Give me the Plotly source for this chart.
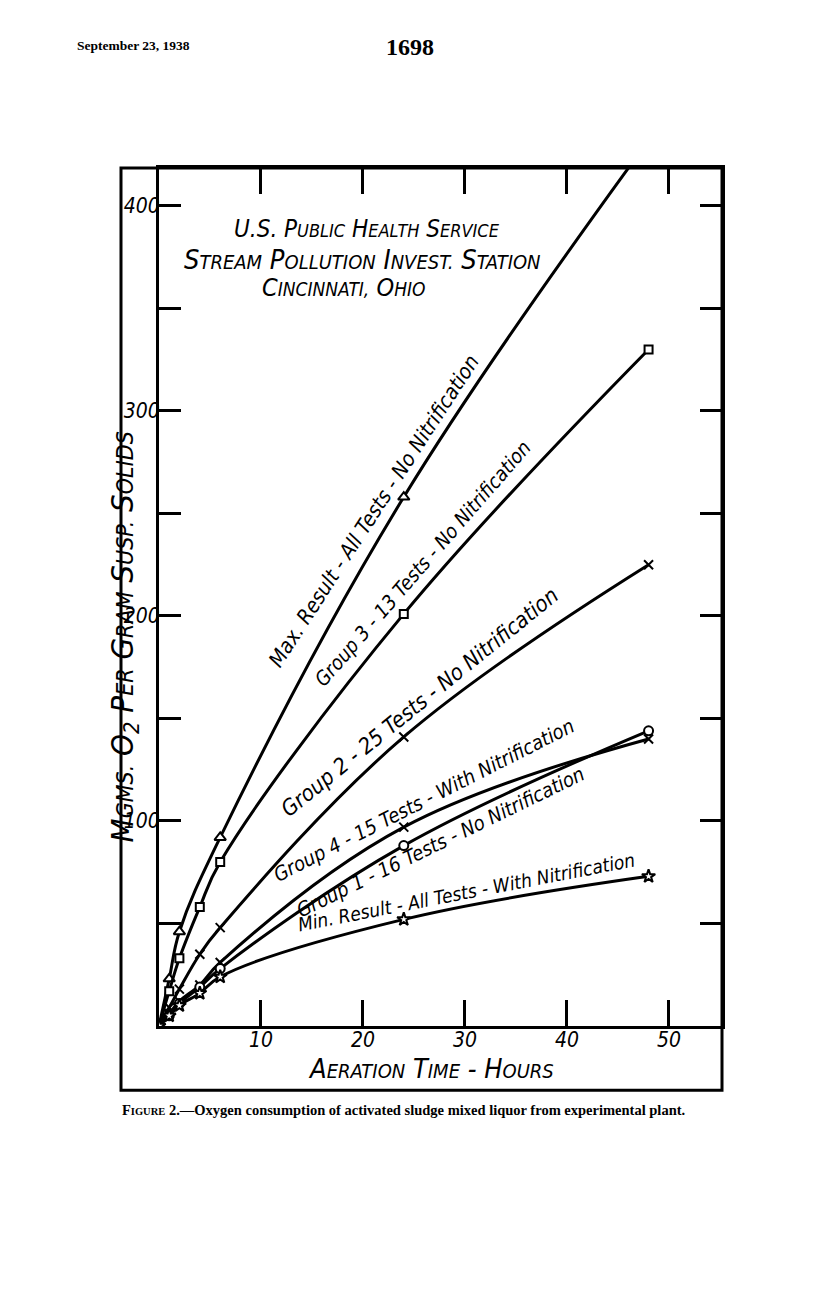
import plotly.graph_objects as go

# aeration time (hours) and O2 used (mgms per gram suspended solids)
max_t = [0, 1, 2, 6, 24, 48]
max_y = [0, 23, 46, 92, 258, 432]
g3_t = [0, 1, 2, 4, 6, 24, 48]
g3_y = [0, 17, 33, 58, 80, 201, 330]
g2_t = [0, 1, 2, 4, 6, 24, 48]
g2_y = [0, 9, 18, 35, 48, 141, 225]
g4_t = [0, 1, 2, 4, 6, 24, 48]
g4_y = [0, 6, 12, 20, 31, 97, 140]
g1_t = [0, 1, 2, 4, 6, 24, 48]
g1_y = [0, 5, 11, 19, 28, 88, 144]
min_t = [0, 1, 2, 4, 6, 24, 48]
min_y = [0, 5, 10, 16, 24, 52, 73]

x_ticks = [10, 20, 30, 40, 50]
y_ticks = [50, 100, 150, 200, 250, 300, 350, 400]
y_ticktext = ["", "100", "", "200", "", "300", "", "400"]

hand = "Liberation Sans Narrow, DejaVu Sans Condensed, Liberation Sans"
serif = "Liberation Serif, DejaVu Serif"

series = [
    (max_t, max_y, "triangle-up", 10),
    (g3_t, g3_y, "square", 8),
    (g2_t, g2_y, "x-thin", 9),
    (g4_t, g4_y, "x-thin", 9),
    (g1_t, g1_y, "circle", 9),
    (min_t, min_y, "star", 10),
]

fig = go.Figure()
for t, y, sym, sz in series:
    fig.add_trace(go.Scatter(
        x=t, y=y, mode="lines+markers",
        line=dict(color="black", width=3, shape="spline", smoothing=1.1),
        marker=dict(symbol=sym, size=sz, color="white",
                    line=dict(color="black", width=2)),
        showlegend=False))

# curve labels (x, y, angle, size, text)
labels = [
    (21.1, 251.0, -57, 21, "Max. Result - All Tests - No Nitrification"),
    (25.8, 225.5, -49, 20, "Group 3 - 13 Tests - No Nitrification"),
    (25.5, 158.0, -39, 22, "Group 2 - 25 Tests - No Nitrification"),
    (26.0, 110.0, -27, 20, "Group 4 - 15 Tests - With Nitrification"),
    (27.6, 89.6, -26, 20, "Group 1 - 16 Tests - No Nitrification"),
    (30.1, 65.2, -11, 19, "Min. Result - All Tests - With Nitrification"),
]
for x, y, ang, sz, txt in labels:
    fig.add_annotation(x=x, y=y, text=txt, textangle=ang, showarrow=False,
                       font=dict(family=hand, size=sz, color="black", style="italic"))


def sc(text, small):
    # small caps: first letter of each word full size
    out = []
    for w in text.split(" "):
        if w[0].isalpha():
            out.append(w[0] + "<span style='font-size:%dpx'>%s</span>" % (small, w[1:].upper()))
        else:
            out.append(w)
    return " ".join(out)


def note(x, y, text, size, family=hand, angle=0, xanchor="center", style="italic"):
    fig.add_annotation(xref="paper", yref="paper", x=x, y=y, text=text, showarrow=False,
                       xanchor=xanchor, yanchor="middle", textangle=angle,
                       font=dict(family=family, size=size, color="black", style=style))


note(0.369, 0.929, "U.S. " + sc("Public Health Service", 18), 24)
note(0.361, 0.893, sc("Stream Pollution Invest. Station", 20), 27)
note(0.329, 0.861, sc("Cincinnati, Ohio", 19), 25)

note(0.483, -0.049, sc("Aeration Time - Hours", 20), 27)
note(-0.062, 0.453, sc("Mgms.", 23) + " O<sub>2</sub> " + sc("Per Gram Susp. Solids", 23), 31, angle=-90)

# page header and caption
note(-0.149, 1.143, "<b>September 23, 1938</b>", 13.5, family=serif, xanchor="left", style="normal")
note(0.446, 1.141, "<b>1698</b>", 24, family=serif, style="normal")
note(0.435, -0.098,
     "<b>F<span style='font-size:10.5px'>IGURE</span> 2.—Oxygen consumption of activated sludge mixed liquor from experimental plant.</b>",
     14.5, family=serif, style="normal")

# outer frame
fig.add_shape(type="rect", xref="paper", yref="paper", x0=-0.0675, y0=-0.075, x1=1, y1=1,
              line=dict(color="black", width=3))

fig.update_layout(
    width=800, height=1275,
    margin=dict(l=151, r=86, t=160, b=257),
    plot_bgcolor="white", paper_bgcolor="white",
    xaxis=dict(range=[0, 55.2], showgrid=False, zeroline=False,
               showline=True, linewidth=3, linecolor="black", mirror="ticks",
               ticks="inside", ticklen=26, tickwidth=3, tickcolor="black",
               tickvals=x_ticks, ticktext=[str(v) for v in x_ticks], ticklabelstandoff=-7,
               tickfont=dict(family=hand, size=21, color="black", style="italic")),
    yaxis=dict(range=[0, 418.5], showgrid=False, zeroline=False,
               showline=True, linewidth=3, linecolor="black", mirror="ticks",
               ticks="inside", ticklen=22, tickwidth=3, tickcolor="black",
               tickvals=y_ticks, ticktext=y_ticktext, ticklabelstandoff=-8,
               tickfont=dict(family=hand, size=21, color="black", style="italic")),
)

fig.write_html("out.html")
